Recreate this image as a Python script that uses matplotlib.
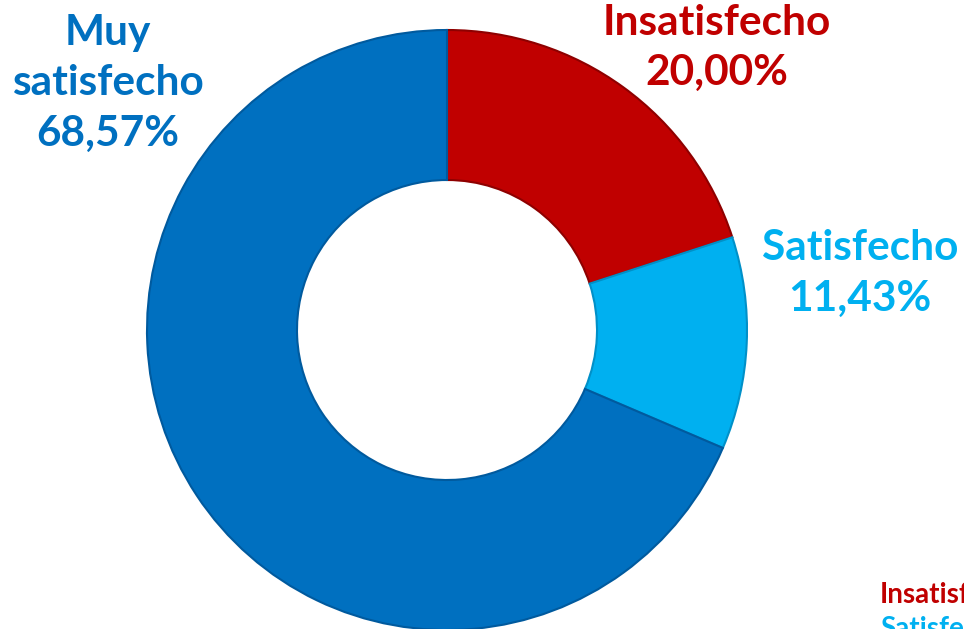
import matplotlib.pyplot as plt

labels = ["Insatisfecho", "Satisfecho", "Muy satisfecho"]
values = [20.00, 11.43, 68.57]
value_text = ["20,00%", "11,43%", "68,57%"]
colors = ["#C00000", "#00B0F0", "#0070C0"]
edge_colors = ["#8E0000", "#0090C8", "#005A9E"]

plt.rcParams['font.family'] = ['Lato', 'DejaVu Sans']

W, H = 964, 629
fig = plt.figure(figsize=(W / 100, H / 100), dpi=100)
ax = fig.add_axes([0, 0, 1, 1])

cx, cy, r = 447, H - 330, 300
wedges, _ = ax.pie(values, colors=colors, startangle=90, counterclock=False,
                   center=(cx, cy), radius=r, frame=True,
                   wedgeprops=dict(width=r * 0.5, linewidth=1.5))
for w, ec in zip(wedges, edge_colors):
    w.set_edgecolor(ec)
ax.set_xlim(0, W)
ax.set_ylim(0, H)
ax.set_aspect('equal')
ax.axis('off')

def y(py):
    return H - py

kw = dict(ha='center', va='baseline', fontsize=30.5, fontweight='bold')
# Muy satisfecho
ax.text(108, y(45), "Muy", color=colors[2], **kw)
ax.text(108, y(95), "satisfecho", color=colors[2], **kw)
ax.text(108, y(146), value_text[2], color=colors[2], **kw)
# Insatisfecho
ax.text(717, y(35), labels[0], color=colors[0], **kw)
ax.text(717, y(85), value_text[0], color=colors[0], **kw)
# Satisfecho
ax.text(860, y(260), labels[1], color=colors[1], **kw)
ax.text(860, y(311), value_text[1], color=colors[1], **kw)

# legend, running off the right/bottom edge as in the original
ax.text(880, y(603), labels[0], color=colors[0], ha='left', va='baseline',
        fontsize=20, fontweight='bold', clip_on=False)
ax.text(880, y(637), labels[1], color=colors[1], ha='left', va='baseline',
        fontsize=20, fontweight='bold', clip_on=False)

fig.savefig("out.png", dpi=100, facecolor='white')
